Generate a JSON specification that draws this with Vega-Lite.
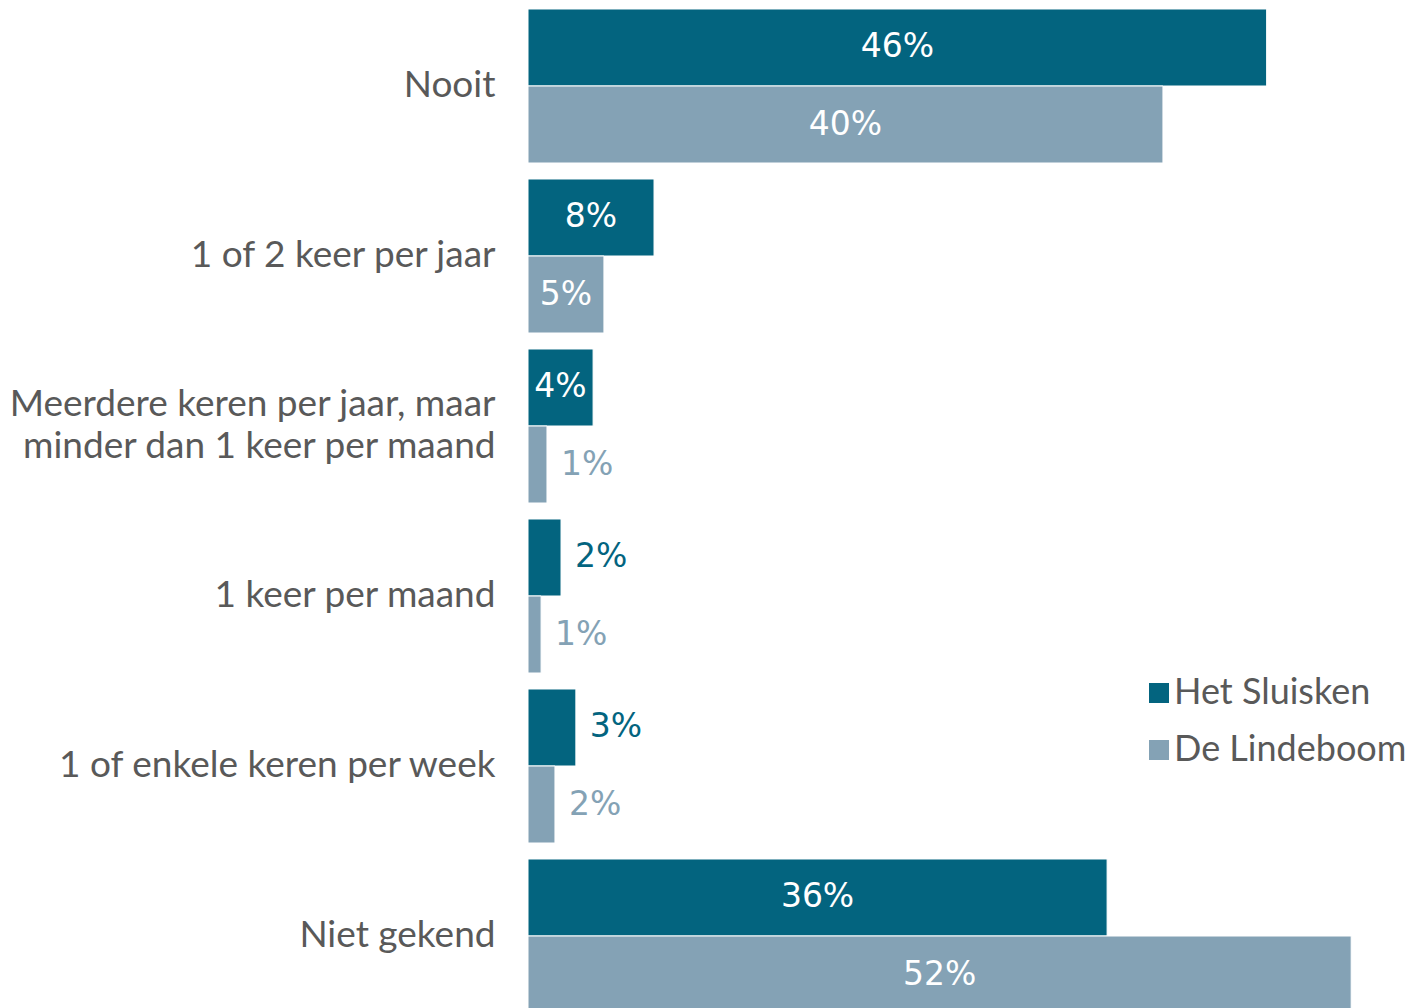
{
  "$schema": "https://vega.github.io/schema/vega-lite/v6.json",
  "autosize": "none",
  "width": 887,
  "height": 1007,
  "padding": {"left": 528, "top": 1, "right": 0, "bottom": 0},
  "background": "white",
  "config": {
    "view": {"stroke": null},
    "font": "Lato",
    "axis": {"grid": false, "domain": false, "ticks": false}
  },
  "data": {
    "values": [
      {"category": "Nooit", "series": "Het Sluisken", "value": 0.463},
      {"category": "Nooit", "series": "De Lindeboom", "value": 0.398},
      {"category": "1 of 2 keer per jaar", "series": "Het Sluisken", "value": 0.079},
      {"category": "1 of 2 keer per jaar", "series": "De Lindeboom", "value": 0.0476},
      {"category": "Meerdere keren per jaar, maar minder dan 1 keer per maand", "series": "Het Sluisken", "value": 0.0408},
      {"category": "Meerdere keren per jaar, maar minder dan 1 keer per maand", "series": "De Lindeboom", "value": 0.0119},
      {"category": "1 keer per maand", "series": "Het Sluisken", "value": 0.0207},
      {"category": "1 keer per maand", "series": "De Lindeboom", "value": 0.0082},
      {"category": "1 of enkele keren per week", "series": "Het Sluisken", "value": 0.030},
      {"category": "1 of enkele keren per week", "series": "De Lindeboom", "value": 0.0169},
      {"category": "Niet gekend", "series": "Het Sluisken", "value": 0.363},
      {"category": "Niet gekend", "series": "De Lindeboom", "value": 0.516}
    ]
  },
  "encoding": {
    "y": {
      "field": "category",
      "type": "nominal",
      "sort": null,
      "title": null,
      "scale": {"range": [0, 1020], "paddingInner": 0.094, "paddingOuter": 0.047},
      "axis": {
        "labelFontSize": 37,
        "labelColor": "#595959",
        "labelPadding": 33,
        "labelLimit": 600,
        "labelLineHeight": 42,
        "labelOffset": {"condition": {"test": "datum.value == 'Meerdere keren per jaar, maar minder dan 1 keer per maand'", "value": -21}, "value": 0},
        "labelExpr": "datum.label == 'Meerdere keren per jaar, maar minder dan 1 keer per maand' ? ['Meerdere keren per jaar, maar', 'minder dan 1 keer per maand'] : datum.label"
      }
    },
    "yOffset": {
      "field": "series",
      "type": "nominal",
      "sort": ["Het Sluisken", "De Lindeboom"],
      "scale": {"paddingInner": 0, "paddingOuter": 0}
    }
  },
  "layer": [
    {
      "mark": {"type": "bar", "stroke": "white", "strokeWidth": 1},
      "encoding": {
        "x": {"field": "value", "type": "quantitative", "scale": {"domain": [0, 0.556], "nice": false}, "axis": null},
        "color": {
          "field": "series",
          "type": "nominal",
          "sort": ["Het Sluisken", "De Lindeboom"],
          "scale": {"domain": ["Het Sluisken", "De Lindeboom"], "range": ["#03647f", "#84a2b5"]},
          "legend": {
            "title": null,
            "orient": "none",
            "legendX": 613,
            "legendY": 674,
            "symbolType": "square",
            "symbolSize": 400,
            "symbolStrokeWidth": 0,
            "labelFontSize": 36,
            "labelColor": "#595959",
            "labelOffset": -3,
            "labelLimit": 400,
            "rowPadding": 21
          }
        }
      }
    },
    {
      "transform": [
        {"filter": "datum.value >= 0.035"},
        {"calculate": "datum.value / 2", "as": "mid"}
      ],
      "mark": {"type": "text", "align": "center", "baseline": "middle", "fontSize": 33, "font": "DejaVu Sans", "color": "white"},
      "encoding": {
        "x": {"field": "mid", "type": "quantitative"},
        "text": {"field": "value", "type": "quantitative", "format": ".0%"}
      }
    },
    {
      "transform": [{"filter": "datum.value < 0.035"}],
      "mark": {"type": "text", "align": "left", "baseline": "middle", "fontSize": 33, "font": "DejaVu Sans", "dx": 14},
      "encoding": {
        "x": {"field": "value", "type": "quantitative"},
        "text": {"field": "value", "type": "quantitative", "format": ".0%"},
        "color": {"field": "series", "type": "nominal"}
      }
    }
  ]
}
